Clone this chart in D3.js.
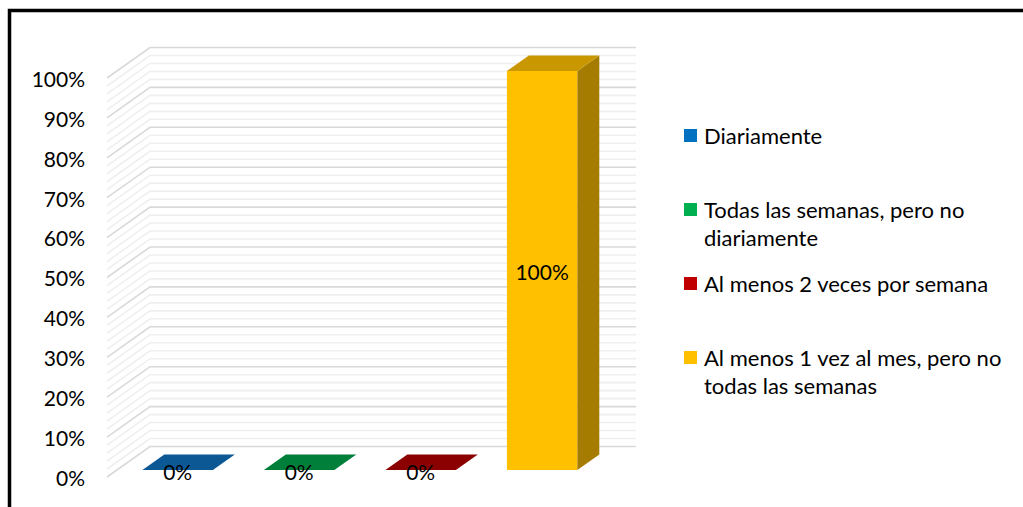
<!DOCTYPE html>
<html>
<head>
<meta charset="utf-8">
<script src="https://cdn.jsdelivr.net/npm/d3@7"></script>
<style>
  body { margin: 0; background: #fff; }
  svg { display: block; }
</style>
</head>
<body>
<div id="wrapper"></div>
<script>
//1_Data
const categories = [
  "Diariamente",
  "Todas las semanas, pero no diariamente",
  "Al menos 2 veces por semana",
  "Al menos 1 vez al mes, pero no todas las semanas"
]
const values = [0, 0, 0, 1]
const frontColors = ["#0070c0", "#00b050", "#c00000", "#ffc000"]
const topColors = ["#0b5895", "#007f3a", "#8b0000", "#c99700"]
const sideColors = ["#084a7e", "#006a30", "#740000", "#a67c00"]
const legendColors = ["#0070c0", "#00b050", "#c00000", "#ffc000"]

//2_Dimensions
const dimensions = {
  width: 1023,
  height: 507,
  plotLeft: 107,
  plotRight: 593,
  yZero: 477,
  yTop: 78,
  depthX: 43,
  depthY: 30.5,
  barZ0: 0.23,
  barZ1: 0.74,
}
const font = "Lato, 'Open Sans', sans-serif"
const axisSize = "21px"
const legendSize = "22px"

//3_Canvas
const svg = d3.select("#wrapper")
  .append("svg")
  .attr("width", dimensions.width)
  .attr("height", dimensions.height)

//4_Scales
const yScale = d3.scaleLinear()
  .domain([0, 1])
  .range([dimensions.yZero, dimensions.yTop])
const xScale = d3.scaleBand()
  .domain(categories)
  .range([dimensions.plotLeft, dimensions.plotRight])
  .paddingInner(0.42)
  .paddingOuter(0.21)

// projection of (x on front plane, value, depth 0..1)
const proj = (x, v, z) => [x + z * dimensions.depthX, yScale(v) - z * dimensions.depthY]
const pts = arr => arr.map(p => p.join(",")).join(" ")

//5_Gridlines (side wall + back wall)
const grid = svg.append("g").attr("class", "grid")
const drawGrid = (ticks, color, w) => {
  grid.selectAll(null)
    .data(ticks)
    .enter().append("polyline")
    .attr("points", d => pts([
      proj(dimensions.plotLeft, d, 0),
      proj(dimensions.plotLeft, d, 1),
      proj(dimensions.plotRight, d, 1)
    ]))
    .attr("fill", "none")
    .attr("stroke", color)
    .attr("stroke-width", w)
}
drawGrid(yScale.ticks(50).filter(d => Math.round(d * 50) % 5 !== 0), "#efefef", 1.6)
drawGrid(yScale.ticks(10), "#d9d9d9", 1.6)

//6_Bars
const bars = svg.append("g").attr("class", "bars")
  .selectAll("g")
  .data(categories)
  .enter().append("g")

const z0 = dimensions.barZ0, z1 = dimensions.barZ1
const bx0 = d => xScale(d)
const bx1 = d => xScale(d) + xScale.bandwidth()
const val = (d, i) => values[i]

bars.append("polygon")
  .attr("points", (d, i) => pts([
    proj(bx0(d), 0, z0), proj(bx1(d), 0, z0),
    proj(bx1(d), val(d, i), z0), proj(bx0(d), val(d, i), z0)
  ]))
  .attr("fill", (d, i) => frontColors[i])

bars.append("polygon")
  .attr("points", (d, i) => pts([
    proj(bx1(d), 0, z0), proj(bx1(d), 0, z1),
    proj(bx1(d), val(d, i), z1), proj(bx1(d), val(d, i), z0)
  ]))
  .attr("fill", (d, i) => sideColors[i])

bars.append("polygon")
  .attr("points", (d, i) => pts([
    proj(bx0(d), val(d, i), z0), proj(bx1(d), val(d, i), z0),
    proj(bx1(d), val(d, i), z1), proj(bx0(d), val(d, i), z1)
  ]))
  .attr("fill", (d, i) => topColors[i])

//Bar labels
const formatPercent = d3.format(".0%")
bars.append("text")
  .attr("x", d => proj(bx0(d) + xScale.bandwidth() / 2, 0, z0)[0])
  .attr("y", (d, i) => (proj(0, 0, z0)[1] + proj(0, val(d, i), z0)[1]) / 2 + 2.5)
  .attr("dy", "0.35em")
  .attr("text-anchor", "middle")
  .style("font-family", font)
  .style("font-size", axisSize)
  .attr("fill", "#000")
  .text((d, i) => formatPercent(values[i]))

//7_Y axis labels
svg.append("g").attr("class", "y-labels")
  .selectAll("text")
  .data(yScale.ticks(10))
  .enter().append("text")
  .attr("x", 85)
  .attr("y", d => yScale(d) + 1.5)
  .attr("dy", "0.35em")
  .attr("text-anchor", "end")
  .style("font-family", font)
  .style("font-size", axisSize)
  .attr("fill", "#000")
  .text(formatPercent)

//8_Legend
const wrapWords = (text, maxW) => {
  const words = text.split(" ")
  const lines = []
  let line = ""
  const probe = svg.append("text").style("font-family", font).style("font-size", legendSize)
  words.forEach(w => {
    const test = line ? line + " " + w : w
    probe.text(test)
    if (probe.node().getComputedTextLength() > maxW && line) {
      lines.push(line)
      line = w
    } else {
      line = test
    }
  })
  lines.push(line)
  probe.remove()
  return lines
}

const legend = svg.append("g").attr("class", "legend")
  .selectAll("g")
  .data(categories)
  .enter().append("g")
  .attr("transform", (d, i) => `translate(684, ${136 + i * 74})`)

legend.append("rect")
  .attr("x", 0)
  .attr("y", -7)
  .attr("width", 13)
  .attr("height", 13)
  .attr("fill", (d, i) => legendColors[i])

legend.append("text")
  .style("font-family", font)
  .style("font-size", legendSize)
  .attr("fill", "#000")
  .each(function(d) {
    const lines = wrapWords(d, 310)
    d3.select(this).selectAll("tspan")
      .data(lines)
      .enter().append("tspan")
      .attr("x", 20)
      .attr("y", (l, j) => j * 28.5)
      .attr("dy", "0.35em")
      .text(l => l)
  })

//9_Border
svg.append("path")
  .attr("d", `M9.5,${dimensions.height + 5} V10.5 H${dimensions.width + 5}`)
  .attr("fill", "none")
  .attr("stroke", "#000")
  .attr("stroke-width", 3.5)
</script>
</body>
</html>
